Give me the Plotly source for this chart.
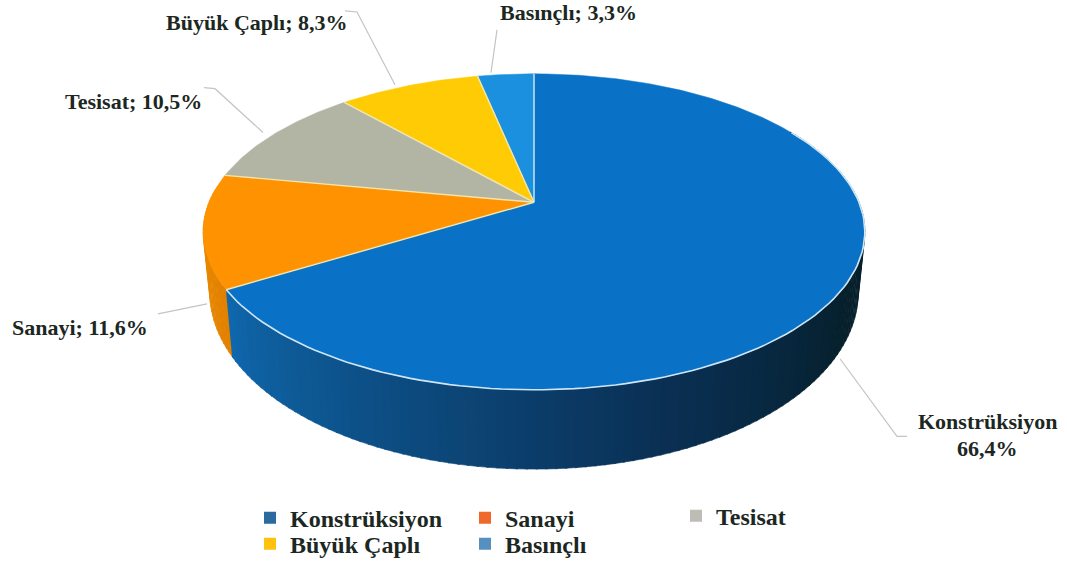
import numpy as np
import plotly.graph_objects as go

categories = ["Konstrüksiyon", "Sanayi", "Tesisat", "Büyük Çaplı", "Basınçlı"]
legend_names = ["Konstrüksiyon", "Sanayi", "Tesisat", "Büyük Çaplı", "Basınçlı"]
legend_ids = ["legend", "legend2", "legend3", "legend4", "legend5"]
values = [66.4, 11.6, 10.5, 8.3, 3.3]
face_colors = ["#0a72c6", "#ff9200", "#b2b4a4", "#ffcb05", "#1b90de"]
legend_colors = ["#2a6a9e", "#f0692a", "#bdbdb5", "#ffc20e", "#5590c0"]

# pie order on screen: starts at 12 o'clock going counter-clockwise from the smallest
draw_order = [4, 3, 2, 1, 0]

# perspective of the pie (screen px)
CX, CY, A, B, K = 534.0, 203.0, 325.0, 153.0, 0.187
DEPTH, SX, SY = 57.0, 0.98, 1.12


def rim(theta_deg):
    t = np.radians(np.asarray(theta_deg, dtype=float))
    u, v = -np.sin(t), np.cos(t)
    den = 1 + K * v
    return CX + A * u / den, CY - B * v / den


def low_rim(theta_deg):
    x, y = rim(theta_deg)
    return CX + SX * (x - CX), CY + DEPTH + SY * (y - CY)


def mix(c1, c2, f):
    a = [int(c1[i:i + 2], 16) for i in (1, 3, 5)]
    b = [int(c2[i:i + 2], 16) for i in (1, 3, 5)]
    return "rgb(%d,%d,%d)" % tuple(round(p + (q - p) * f) for p, q in zip(a, b))


def side_color(theta):
    if theta < sanayi_end:
        return mix("#f09000", "#e07f00", (theta - 85) / 40)
    f = (theta - sanayi_end) / 170
    if f < 0.45:
        return mix("#0f68ad", "#0a3055", f / 0.45)
    return mix("#0a3055", "#06202c", min(1, (f - 0.45) / 0.25))


fractions = np.array(values) / sum(values)
edges = {}
acc = 0.0
for idx in draw_order:
    edges[idx] = (acc * 360, (acc + fractions[idx]) * 360)
    acc += fractions[idx]
sanayi_end = edges[1][1]

fig = go.Figure()

# side wall, drawn as narrow strips so it can be shaded
strip_edges = np.linspace(85, 300, 150)
for t0, t1 in zip(strip_edges[:-1], strip_edges[1:]):
    th = np.linspace(t0, t1 + 0.3, 3)
    x1, y1 = rim(th)
    x2, y2 = low_rim(th)
    col = side_color((t0 + t1) / 2)
    fig.add_trace(go.Scatter(
        x=np.r_[x1, x2[::-1]], y=np.r_[y1, y2[::-1]], fill="toself", fillcolor=col,
        mode="lines", line=dict(color=col, width=0.6), showlegend=False, hoverinfo="skip"))

# top faces
for idx in draw_order:
    t0, t1 = edges[idx]
    th = np.linspace(t0, t1, max(8, int((t1 - t0) * 1.5)))
    x, y = rim(th)
    fig.add_trace(go.Scatter(
        x=np.r_[CX, x, CX], y=np.r_[CY, y, CY], fill="toself", fillcolor=face_colors[idx],
        mode="lines", line=dict(color=face_colors[idx], width=0.5),
        name=categories[idx], showlegend=False, hoverinfo="name"))

# thin light seams between the slices
for idx in draw_order:
    t0, _ = edges[idx]
    if idx == 4:
        continue
    x, y = rim([t0])
    fig.add_trace(go.Scatter(x=[CX, x[0]], y=[CY, y[0]], mode="lines",
                             line=dict(color="#f2e6b0", width=1.4),
                             showlegend=False, hoverinfo="skip"))
x, y = rim([360])
fig.add_trace(go.Scatter(x=[CX, x[0]], y=[CY, y[0]], mode="lines",
                         line=dict(color="#d5ecfa", width=1.4),
                         showlegend=False, hoverinfo="skip"))
th = np.linspace(edges[0][0], 300, 120)
x, y = rim(th)
fig.add_trace(go.Scatter(x=x, y=y, mode="lines", line=dict(color="#cfe6f6", width=1.6),
                         showlegend=False, hoverinfo="skip"))

# legend entries
for name, col, lid in zip(legend_names, legend_colors, legend_ids):
    fig.add_trace(go.Scatter(x=[None], y=[None], mode="markers", name=name, legend=lid,
                             marker=dict(symbol="square", size=5, color=col)))

TEXT = "#1c281f"
label_font = dict(family="Liberation Serif", size=22, color=TEXT)
labels = [
    ("<b>Büyük Çaplı; 8,3%</b>", 257, 23),
    ("<b>Tesisat; 10,5%</b>", 133, 102),
    ("<b>Basınçlı; 3,3%</b>", 568, 13),
    ("<b>Sanayi; 11,6%</b>", 80, 329),
    ("<b>Konstrüksiyon</b>", 987, 423),
    ("<b>66,4%</b>", 987, 450),
]
annotations = [dict(text=t, x=x, y=y, xref="x", yref="y", showarrow=False,
                    xanchor="center", yanchor="middle", font=label_font)
               for t, x, y in labels]

leaders = [
    "M491,73 L497,30",
    "M395,85 L357,12 L345,11",
    "M263,133 L215,89 L204,88",
    "M207,305 L158,315",
    "M840,360 L897,438 L907,438",
]
shapes = [dict(type="path", path=p, xref="x", yref="y", layer="above",
               line=dict(color="#c4c4c4", width=1.2)) for p in leaders]

legend_font = dict(family="Liberation Serif", size=24, color=TEXT, weight="bold")


def legend_at(px, py):
    return dict(orientation="v", x=px / 1067, y=1 - py / 567, xanchor="left", yanchor="middle",
                itemsizing="constant", bgcolor="rgba(0,0,0,0)", font=legend_font)


fig.update_layout(
    width=1067, height=567, margin=dict(l=0, r=0, t=0, b=0),
    paper_bgcolor="white", plot_bgcolor="white",
    xaxis=dict(visible=False, range=[0, 1067], fixedrange=True),
    yaxis=dict(visible=False, range=[567, 0], fixedrange=True),
    annotations=annotations, shapes=shapes,
    legend=legend_at(250, 520), legend2=legend_at(465, 520), legend3=legend_at(676, 518),
    legend4=legend_at(250, 546), legend5=legend_at(465, 546),
)
fig.write_html("out.html", config={"displayModeBar": False},
               post_script="document.body.style.margin='0';")
